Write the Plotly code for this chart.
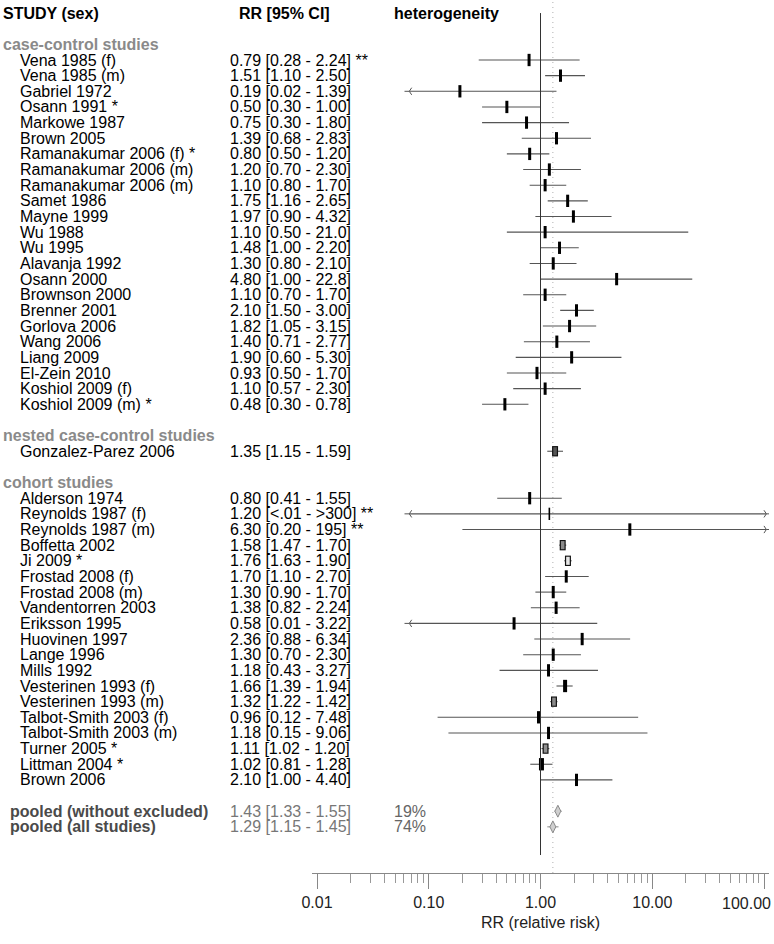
import math
import plotly.graph_objects as go

# ---------------- data ----------------
case_names = ["Vena 1985 (f)", "Vena 1985 (m)", "Gabriel 1972", "Osann 1991 *", "Markowe 1987",
              "Brown 2005", "Ramanakumar 2006 (f) *", "Ramanakumar 2006 (m)", "Ramanakumar 2006 (m)",
              "Samet 1986", "Mayne 1999", "Wu 1988", "Wu 1995", "Alavanja 1992", "Osann 2000",
              "Brownson 2000", "Brenner 2001", "Gorlova 2006", "Wang 2006", "Liang 2009",
              "El-Zein 2010", "Koshiol 2009 (f)", "Koshiol 2009 (m) *"]
case_rr = [0.79, 1.51, 0.19, 0.50, 0.75, 1.39, 0.80, 1.20, 1.10, 1.75, 1.97, 1.10, 1.48, 1.30, 4.80,
           1.10, 2.10, 1.82, 1.40, 1.90, 0.93, 1.10, 0.48]
case_lo = [0.28, 1.10, 0.02, 0.30, 0.30, 0.68, 0.50, 0.70, 0.80, 1.16, 0.90, 0.50, 1.00, 0.80, 1.00,
           0.70, 1.50, 1.05, 0.71, 0.60, 0.50, 0.57, 0.30]
case_hi = [2.24, 2.50, 1.39, 1.00, 1.80, 2.83, 1.20, 2.30, 1.70, 2.65, 4.32, 21.0, 2.20, 2.10, 22.8,
           1.70, 3.00, 3.15, 2.77, 5.30, 1.70, 2.30, 0.78]
case_notes = ["**"] + [""] * 22

nested_names = ["Gonzalez-Parez 2006"]
nested_rr = [1.35]
nested_lo = [1.15]
nested_hi = [1.59]
nested_notes = [""]

cohort_names = ["Alderson 1974", "Reynolds 1987 (f)", "Reynolds 1987 (m)", "Boffetta 2002", "Ji 2009 *",
                "Frostad 2008 (f)", "Frostad 2008 (m)", "Vandentorren 2003", "Eriksson 1995",
                "Huovinen 1997", "Lange 1996", "Mills 1992", "Vesterinen 1993 (f)", "Vesterinen 1993 (m)",
                "Talbot-Smith 2003 (f)", "Talbot-Smith 2003 (m)", "Turner 2005 *", "Littman 2004 *",
                "Brown 2006"]
cohort_rr = [0.80, 1.20, 6.30, 1.58, 1.76, 1.70, 1.30, 1.38, 0.58, 2.36, 1.30, 1.18, 1.66, 1.32,
             0.96, 1.18, 1.11, 1.02, 2.10]
cohort_lo = [0.41, 0.005, 0.20, 1.47, 1.63, 1.10, 0.90, 0.82, 0.01, 0.88, 0.70, 0.43, 1.39, 1.22,
             0.12, 0.15, 1.02, 0.81, 1.00]
cohort_hi = [1.55, 350.0, 195.0, 1.70, 1.90, 2.70, 1.70, 2.24, 3.22, 6.34, 2.30, 3.27, 1.94, 1.42,
             7.48, 9.06, 1.20, 1.28, 4.40]
cohort_notes = ["", "**", "**"] + [""] * 16

section_titles = ["case-control studies", "nested case-control studies", "cohort studies"]

pooled_names = ["pooled (without excluded)", "pooled (all studies)"]
pooled_rr = [1.43, 1.29]
pooled_lo = [1.33, 1.15]
pooled_hi = [1.55, 1.45]
pooled_het = ["19%", "74%"]

header_labels = ["STUDY (sex)", "RR [95% CI]", "heterogeneity"]
tick_values = [0.01, 0.1, 1, 10, 100]
tick_labels = ["0.01", "0.10", "1.00", "10.00", "100.00"]
axis_title = "RR (relative risk)"
NULL_RR = 1.0

# ---------------- styles ----------------
W, H = 774, 944
FONT = "Arial, 'Liberation Sans', sans-serif"
FS = 16
CLIP_LO, CLIP_HI = 0.067, 105.0
BIG_MARKERS = {"Gonzalez-Parez 2006": "#555555", "Boffetta 2002": "#8a8a8a", "Ji 2009 *": "#e6e6e6",
               "Vesterinen 1993 (m)": "#8a8a8a", "Turner 2005 *": "#909090"}
THICK_MARKERS = {"Littman 2004 *": 5, "Vesterinen 1993 (f)": 4}
THIN_MARKERS = {"Reynolds 1987 (f)": 1.6}


def fmt(v, kind):
    if kind == "lo" and v < 0.01:
        return "<.01"
    if kind == "hi" and v > 300:
        return ">300"
    if v >= 100:
        return f"{v:.0f}"
    if v >= 10:
        return f"{v:.1f}"
    return f"{v:.2f}"


# ---------------- row layout ----------------
sections = [
    (section_titles[0], case_names, case_rr, case_lo, case_hi, case_notes),
    (section_titles[1], nested_names, nested_rr, nested_lo, nested_hi, nested_notes),
    (section_titles[2], cohort_names, cohort_rr, cohort_lo, cohort_hi, cohort_notes),
]
heading_rows = []
S_name, S_rr, S_lo, S_hi, S_note, S_row = [], [], [], [], [], []
r = 2
for title, names, rr, lo, hi, notes in sections:
    heading_rows.append((r, title))
    r += 1
    for n, a, b, c, d in zip(names, rr, lo, hi, notes):
        S_name.append(n); S_rr.append(a); S_lo.append(b); S_hi.append(c); S_note.append(d); S_row.append(r)
        r += 1
    r += 1
pooled_rows = [r, r + 1]

# pixel mapping: row 3 at y=60 px, 15.65 px per row; axis line at 873 px
ROW_PX = 15.65
PLOT_BOTTOM_PX = 873
y_top = 3 - 60 / ROW_PX
y_bot = 3 + (PLOT_BOTTOM_PX - 60) / ROW_PX

X_L, X_R = 312 / W, 769 / W
decade_px = (764 - 317) / 4.0
x_range = [-2 - 5 / decade_px, 2 + 5 / decade_px]

fig = go.Figure()

# CI lines
lo_c = [max(v, CLIP_LO) for v in S_lo]
hi_c = [min(v, CLIP_HI) for v in S_hi]
fig.add_trace(go.Scatter(
    x=S_rr, y=S_row, mode="markers", marker=dict(size=1, color="rgba(0,0,0,0)"),
    error_x=dict(type="data", symmetric=False,
                 array=[h - x for h, x in zip(hi_c, S_rr)],
                 arrayminus=[x - l for l, x in zip(lo_c, S_rr)],
                 width=0, thickness=1.1, color="#555555"),
    hoverinfo="skip", showlegend=False))

# truncation arrows
la = [rw for rw, v in zip(S_row, S_lo) if v < CLIP_LO]
ra = [rw for rw, v in zip(S_row, S_hi) if v > CLIP_HI]
fig.add_trace(go.Scatter(x=[CLIP_LO] * len(la), y=la, mode="markers",
                         marker=dict(symbol="y-left", size=6, color="#555555",
                                     line=dict(width=1, color="#555555")),
                         hoverinfo="skip", showlegend=False))
fig.add_trace(go.Scatter(x=[CLIP_HI] * len(ra), y=ra, mode="markers",
                         marker=dict(symbol="y-right", size=6, color="#555555",
                                     line=dict(width=1, color="#555555")),
                         hoverinfo="skip", showlegend=False))

# normal point markers
norm_idx = [k for k, n in enumerate(S_name) if n not in BIG_MARKERS]
fig.add_trace(go.Scatter(
    x=[S_rr[k] for k in norm_idx], y=[S_row[k] for k in norm_idx], mode="markers",
    marker=dict(symbol="line-ns", size=8.8, color="black",
                line=dict(color="black",
                          width=[THICK_MARKERS.get(S_name[k], THIN_MARKERS.get(S_name[k], 3))
                                 for k in norm_idx])),
    hoverinfo="skip", showlegend=False))

# large-weight markers (outlined boxes)
big_idx = [k for k, n in enumerate(S_name) if n in BIG_MARKERS]
fig.add_trace(go.Scatter(
    x=[S_rr[k] for k in big_idx], y=[S_row[k] for k in big_idx], mode="markers",
    marker=dict(symbol="line-ns", size=7.4, color="#111111", line=dict(color="#111111", width=6)),
    hoverinfo="skip", showlegend=False))
fig.add_trace(go.Scatter(
    x=[S_rr[k] for k in big_idx], y=[S_row[k] for k in big_idx], mode="markers",
    marker=dict(symbol="line-ns", size=5.8,
                line=dict(color=[BIG_MARKERS[S_name[k]] for k in big_idx], width=3.6)),
    hoverinfo="skip", showlegend=False))

# pooled estimates
fig.add_trace(go.Scatter(
    x=pooled_rr, y=pooled_rows, mode="markers",
    marker=dict(symbol="diamond-tall", size=8.5, color="#cfcfcf", line=dict(color="#8a8a8a", width=1)),
    error_x=dict(type="data", symmetric=False,
                 array=[h - x for h, x in zip(pooled_hi, pooled_rr)],
                 arrayminus=[x - l for l, x in zip(pooled_lo, pooled_rr)],
                 width=0, thickness=1, color="#8a8a8a"),
    hoverinfo="skip", showlegend=False))

# reference lines
fig.add_shape(type="line", x0=NULL_RR, x1=NULL_RR, xref="x", yref="y", y0=0, y1=53.8,
              line=dict(color="#333333", width=1))
fig.add_shape(type="line", x0=pooled_rr[1], x1=pooled_rr[1], xref="x", yref="paper", y0=0, y1=1,
              line=dict(color="#b0b0b0", width=1, dash="1px,4px"), layer="below")

# ---------------- text columns ----------------
X_NAME, X_HEAD, X_VAL, X_VHEAD, X_HET, X_POOL = 19, 2, 229, 238, 393, 9


def ann(px, row, text, color="black", bold=False):
    fig.add_annotation(x=px / W, y=row, xref="paper", yref="y", text=(f"<b>{text}</b>" if bold else text),
                       showarrow=False, xanchor="left", yanchor="middle", borderpad=0,
                       font=dict(family=FONT, size=FS, color=color))


ann(X_HEAD, 0, header_labels[0], bold=True)
ann(X_VHEAD, 0, header_labels[1], bold=True)
ann(X_HET, 0, header_labels[2], bold=True)
for rw, t in heading_rows:
    ann(X_HEAD, rw, t, color="#8a8a8a", bold=True)
for n, a, b, c, d, rw in zip(S_name, S_rr, S_lo, S_hi, S_note, S_row):
    ann(X_NAME, rw, n)
    txt = f"{a:.2f} [{fmt(b, 'lo')} - {fmt(c, 'hi')}]" + (f" {d}" if d else "")
    ann(X_VAL, rw, txt)
for n, a, b, c, h, rw in zip(pooled_names, pooled_rr, pooled_lo, pooled_hi, pooled_het, pooled_rows):
    ann(X_POOL, rw, n, color="#4a4a4a", bold=True)
    ann(X_VAL, rw, f"{a:.2f} [{fmt(b, 'lo')} - {fmt(c, 'hi')}]", color="#777777")
    ann(X_HET, rw, h, color="#666666")

minor_vals = [k * 10 ** e for e in range(-2, 2) for k in range(2, 10)]
# the last tick label sits against the right edge (as in the reference), so it is drawn
# right-aligned at the figure edge instead of centred under its tick
tick_text_disp = tick_labels[:-1] + [""]
fig.add_annotation(x=772 / W, y=-30 / PLOT_BOTTOM_PX, xref="paper", yref="paper", text=tick_labels[-1],
                   showarrow=False, xanchor="right", yanchor="middle", borderpad=0,
                   font=dict(family=FONT, size=FS, color="#222222"))

fig.update_layout(
    width=W, height=H, margin=dict(l=0, r=0, t=0, b=H - PLOT_BOTTOM_PX, autoexpand=False),
    paper_bgcolor="white", plot_bgcolor="white",
    font=dict(family=FONT, size=FS, color="black"),
    xaxis=dict(type="log", range=x_range, domain=[X_L, X_R], showgrid=False, zeroline=False,
               automargin=False, ticklabeloverflow="allow",
               showline=True, linecolor="#888888", linewidth=1,
               tickvals=tick_values, ticktext=tick_text_disp, ticks="outside", ticklen=15,
               tickcolor="#888888", tickwidth=1, tickfont=dict(family=FONT, size=FS, color="#222222"),
               ticklabelstandoff=0,
               minor=dict(tickvals=minor_vals, ticks="outside", ticklen=9, tickcolor="#999999",
                          tickwidth=1, showgrid=False),
               title=dict(text=axis_title, font=dict(family=FONT, size=FS, color="#222222"), standoff=6)),
    yaxis=dict(range=[y_bot, y_top], visible=False, showgrid=False, zeroline=False, domain=[0, 1],
               automargin=False),
)

fig.write_html("out.html", config={"displayModeBar": False},
               post_script="document.body.style.margin='0';document.body.style.overflow='hidden';")
